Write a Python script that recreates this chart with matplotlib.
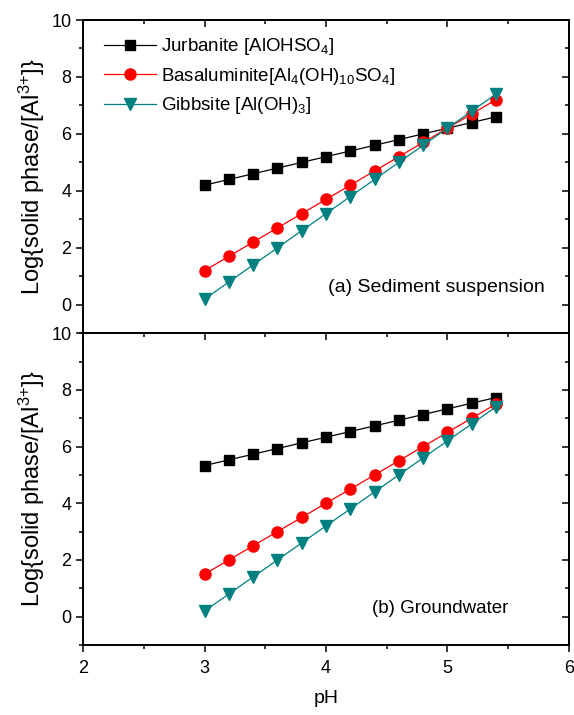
import matplotlib

matplotlib.use("Agg", force=True)

import matplotlib.pyplot as plt
from matplotlib.ticker import MultipleLocator

plt.rcParams["font.family"] = ["Liberation Sans", "DejaVu Sans"]
plt.rcParams["mathtext.fontset"] = "custom"
plt.rcParams["mathtext.rm"] = "Liberation Sans"
plt.rcParams["mathtext.it"] = "Liberation Sans:italic"

ph = [3.0, 3.2, 3.4, 3.6, 3.8, 4.0, 4.2, 4.4, 4.6, 4.8, 5.0, 5.2, 5.4]

# (a) sediment suspension
jur_a = [4.2, 4.4, 4.6, 4.8, 5.0, 5.2, 5.4, 5.6, 5.8, 6.0, 6.2, 6.4, 6.6]
bas_a = [1.2, 1.7, 2.2, 2.7, 3.2, 3.7, 4.2, 4.7, 5.2, 5.7, 6.2, 6.7, 7.2]
gib_a = [0.2, 0.8, 1.4, 2.0, 2.6, 3.2, 3.8, 4.4, 5.0, 5.6, 6.2, 6.8, 7.4]

# (b) groundwater
jur_b = [5.33, 5.53, 5.73, 5.93, 6.13, 6.33, 6.53, 6.73, 6.93, 7.13, 7.33, 7.53, 7.73]
bas_b = [1.5, 2.0, 2.5, 3.0, 3.5, 4.0, 4.5, 5.0, 5.5, 6.0, 6.5, 7.0, 7.5]
gib_b = [0.2, 0.8, 1.4, 2.0, 2.6, 3.2, 3.8, 4.4, 5.0, 5.6, 6.2, 6.8, 7.4]

labels = [
    r"Jurbanite [AlOHSO$_4$]",
    r"Basaluminite[Al$_4$(OH)$_{10}$SO$_4$]",
    r"Gibbsite [Al(OH)$_3$]",
]
ylabel = r"Log{solid phase/[Al$^{3{+}}$]}"

fig = plt.figure(figsize=(5.74, 7.15), dpi=100)
ax_a = fig.add_axes([0.145, 0.534, 0.846, 0.438])
ax_b = fig.add_axes([0.145, 0.098, 0.846, 0.436])


def draw(ax, jur, bas, gib, show_x):
    ax.plot(ph, jur, color="black", marker="s", ms=7, lw=0.9, label=labels[0])
    ax.plot(ph, bas, color="red", marker="o", ms=8, lw=0.9, label=labels[1])
    ax.plot(ph, gib, color="#008080", marker="v", ms=8.5, lw=0.9, label=labels[2])
    ax.set_xlim(2, 6)
    ax.set_ylim(-1, 10)
    ax.xaxis.set_major_locator(MultipleLocator(1))
    ax.xaxis.set_minor_locator(MultipleLocator(0.5))
    ax.yaxis.set_major_locator(MultipleLocator(2))
    ax.yaxis.set_minor_locator(MultipleLocator(1))
    for s in ax.spines.values():
        s.set_linewidth(1.4)
    # left / bottom ticks point outward
    ax.tick_params(axis="both", which="both", direction="out", width=1.1,
                   labelsize=13, top=False, right=False)
    ax.tick_params(axis="both", which="major", length=5)
    ax.tick_params(axis="both", which="minor", length=3)
    ax.tick_params(axis="x", labelbottom=show_x, pad=6)
    ax.set_ylabel(ylabel, fontsize=17, labelpad=3)

    # right / top ticks point inward
    r = ax.secondary_yaxis("right")
    r.yaxis.set_major_locator(MultipleLocator(2))
    r.yaxis.set_minor_locator(MultipleLocator(1))
    r.tick_params(which="both", direction="in", labelright=False, width=1.1)
    r.tick_params(which="major", length=5)
    r.tick_params(which="minor", length=3)
    r.spines["right"].set_linewidth(1.4)
    t = ax.secondary_xaxis("top")
    t.xaxis.set_major_locator(MultipleLocator(1))
    t.xaxis.set_minor_locator(MultipleLocator(0.5))
    t.tick_params(which="both", direction="in", labeltop=False, width=1.1)
    t.tick_params(which="major", length=5)
    t.tick_params(which="minor", length=3)
    t.spines["top"].set_linewidth(1.4)


draw(ax_a, jur_a, bas_a, gib_a, False)
draw(ax_b, jur_b, bas_b, gib_b, True)
ax_b.set_xlabel("pH", fontsize=14, labelpad=9)

ax_a.legend(loc="upper left", frameon=False, fontsize=13.5, handlelength=2.8,
            borderaxespad=0.3, labelspacing=0.45, handletextpad=0.25,
            bbox_to_anchor=(0.015, 0.99))

ax_a.text(5.8, 0.6, "(a) Sediment suspension", ha="right", va="center", fontsize=14)
ax_b.text(5.5, 0.3, "(b) Groundwater", ha="right", va="center", fontsize=13.5)

fig.savefig("out.png", dpi=100)
